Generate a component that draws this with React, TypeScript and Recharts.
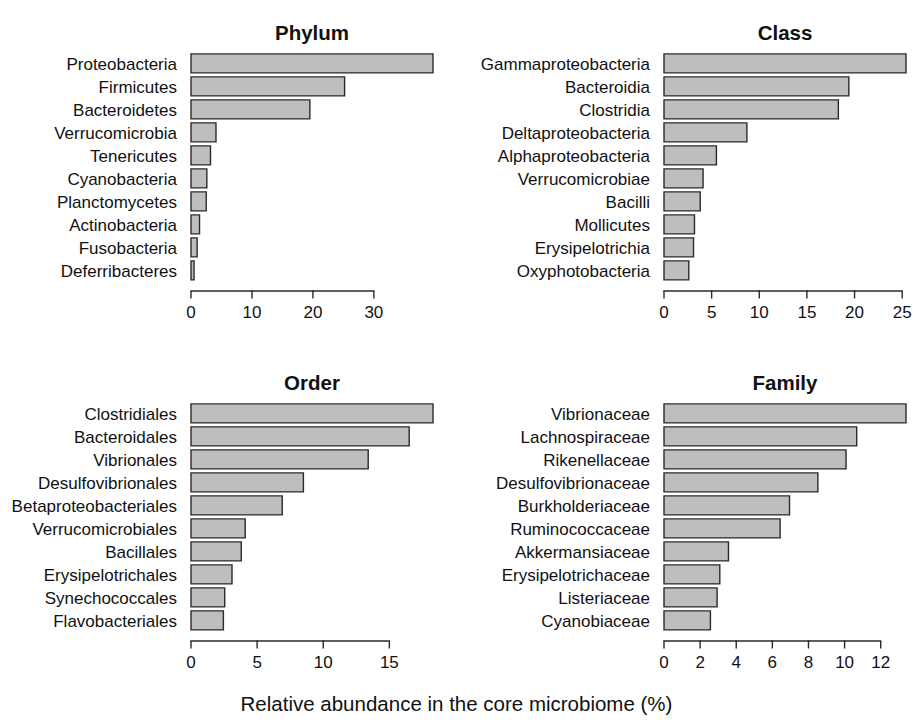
import React from 'react';
import { BarChart, Bar, XAxis, YAxis } from 'recharts';

// taxa, top 10 per rank (relative abundance, %)
const phylumNames = [
  'Proteobacteria', 'Firmicutes', 'Bacteroidetes', 'Verrucomicrobia', 'Tenericutes',
  'Cyanobacteria', 'Planctomycetes', 'Actinobacteria', 'Fusobacteria', 'Deferribacteres',
];
const phylumValues = [39.7, 25.2, 19.5, 4.1, 3.2, 2.6, 2.5, 1.4, 1.0, 0.5];
const phylumTicks = [0, 10, 20, 30];

const classNames = [
  'Gammaproteobacteria', 'Bacteroidia', 'Clostridia', 'Deltaproteobacteria', 'Alphaproteobacteria',
  'Verrucomicrobiae', 'Bacilli', 'Mollicutes', 'Erysipelotrichia', 'Oxyphotobacteria',
];
const classValues = [25.4, 19.4, 18.3, 8.7, 5.5, 4.1, 3.8, 3.2, 3.1, 2.6];
const classTicks = [0, 5, 10, 15, 20, 25];

const orderNames = [
  'Clostridiales', 'Bacteroidales', 'Vibrionales', 'Desulfovibrionales', 'Betaproteobacteriales',
  'Verrucomicrobiales', 'Bacillales', 'Erysipelotrichales', 'Synechococcales', 'Flavobacteriales',
];
const orderValues = [18.3, 16.5, 13.4, 8.5, 6.9, 4.1, 3.8, 3.1, 2.55, 2.45];
const orderTicks = [0, 5, 10, 15];

const familyNames = [
  'Vibrionaceae', 'Lachnospiraceae', 'Rikenellaceae', 'Desulfovibrionaceae', 'Burkholderiaceae',
  'Ruminococcaceae', 'Akkermansiaceae', 'Erysipelotrichaceae', 'Listeriaceae', 'Cyanobiaceae',
];
const familyValues = [13.4, 10.67, 10.08, 8.52, 6.95, 6.43, 3.57, 3.09, 2.94, 2.57];
const familyTicks = [0, 2, 4, 6, 8, 10, 12];

const FONT = '"Liberation Sans", Arial, Helvetica, sans-serif';
const INK = '#111';

// layout (px)
const PANEL_H = 350;
const PLOT_TOP = 52;
const PLOT_H = 230;
const PLOT_W = 242;

function AxisTick(props: any) {
  const { x, y, payload, step, pxPerUnit, lastTick } = props;
  const y0 = y + 9;
  return (
    <g>
      {payload.value < lastTick && (
        <line x1={x} y1={y0} x2={x + step * pxPerUnit} y2={y0} stroke="#2a2a2a" strokeWidth={1.4} strokeLinecap="square" />
      )}
      <line x1={x} y1={y0} x2={x} y2={y0 + 7.5} stroke="#2a2a2a" strokeWidth={1.4} />
      <text x={x} y={y + 36} textAnchor="middle" fontSize={17} fontFamily={FONT} fill={INK}>
        {payload.value}
      </text>
    </g>
  );
}

type PanelProps = {
  title: string;
  names: string[];
  values: number[];
  ticks: number[];
  left: number;
  top: number;
  width: number;
  yAxisWidth: number;
};

function Panel({ title, names, values, ticks, left, top, width, yAxisWidth }: PanelProps) {
  const data = names.map((name, i) => ({ name, value: values[i] }));
  const max = Math.max(...values);
  const pxPerUnit = PLOT_W / max;
  const step = ticks[1] - ticks[0];
  const lastTick = ticks[ticks.length - 1];
  const marginRight = width - yAxisWidth - PLOT_W;

  return (
    <div style={{ position: 'absolute', left, top, width, height: PANEL_H }}>
      <div
        style={{
          position: 'absolute', left: yAxisWidth, width: PLOT_W, top: 21, textAlign: 'center',
          fontFamily: FONT, fontWeight: 'bold', fontSize: 20.5, lineHeight: '24px', color: INK,
        }}
      >
        {title}
      </div>
      <BarChart
        width={width}
        height={PANEL_H}
        data={data}
        layout="vertical"
        margin={{ top: PLOT_TOP, right: marginRight, bottom: 0, left: 0 }}
        barCategoryGap="8.3%"
      >
        <XAxis
          type="number"
          domain={[0, 'dataMax']}
          ticks={ticks}
          interval={0}
          axisLine={false}
          tickLine={false}
          tickSize={0}
          tickMargin={0}
          height={PANEL_H - PLOT_TOP - PLOT_H}
          tick={(p: any) => <AxisTick {...p} step={step} pxPerUnit={pxPerUnit} lastTick={lastTick} />}
        />
        <YAxis
          type="category"
          dataKey="name"
          width={yAxisWidth}
          axisLine={false}
          tickLine={false}
          tickSize={0}
          tickMargin={14}
          interval={0}
          tick={{ fontSize: 17, fontFamily: FONT, fill: INK }}
        />
        <Bar dataKey="value" fill="#bebebe" stroke="#2a2a2a" strokeWidth={1.4} isAnimationActive={false} />
      </BarChart>
    </div>
  );
}

export default function App() {
  return (
    <div style={{ position: 'absolute', left: 0, top: 0, width: 913, height: 725, background: '#fff' }}>
      <Panel title="Phylum" names={phylumNames} values={phylumValues} ticks={phylumTicks} left={0} top={0} width={456} yAxisWidth={191} />
      <Panel title="Class" names={classNames} values={classValues} ticks={classTicks} left={456} top={0} width={457} yAxisWidth={208} />
      <Panel title="Order" names={orderNames} values={orderValues} ticks={orderTicks} left={0} top={PANEL_H} width={456} yAxisWidth={191} />
      <Panel title="Family" names={familyNames} values={familyValues} ticks={familyTicks} left={456} top={PANEL_H} width={457} yAxisWidth={208} />
      <div
        style={{
          position: 'absolute', left: 0, width: 913, top: 692, textAlign: 'center',
          fontFamily: FONT, fontSize: 20.5, lineHeight: '24px', color: INK,
        }}
      >
        Relative abundance in the core microbiome (%)
      </div>
    </div>
  );
}
